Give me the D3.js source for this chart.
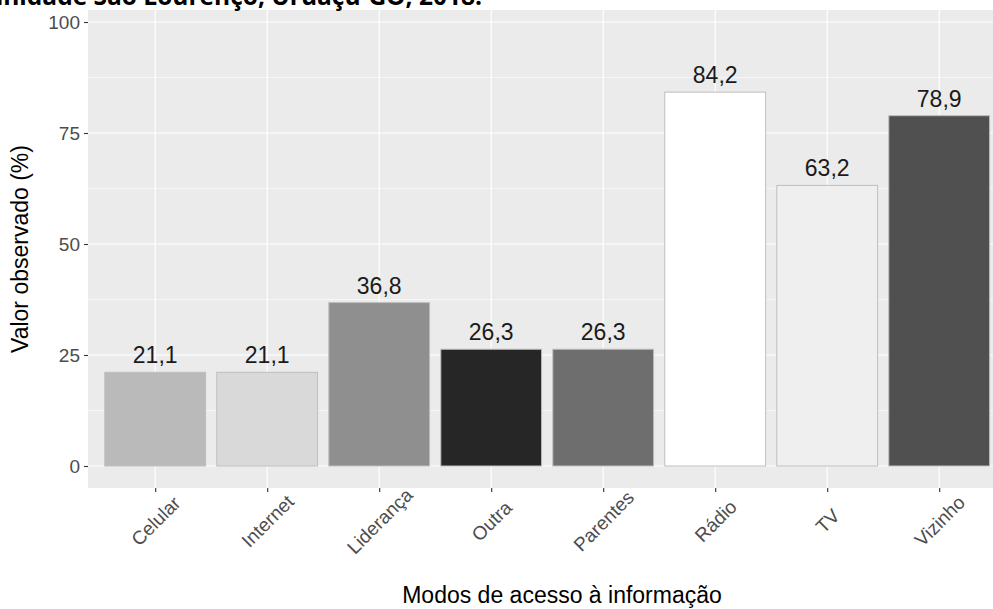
<!DOCTYPE html>
<html>
<head>
<meta charset="utf-8">
<script src="https://cdn.jsdelivr.net/npm/d3@7"></script>
<style>
  body { margin: 0; background: #fff; }
  svg { display: block; }
</style>
</head>
<body>
<div id="chart"></div>
<script>
// data
const modos = ["Celular", "Internet", "Liderança", "Outra", "Parentes", "Rádio", "TV", "Vizinho"];
const valores = [21.1, 21.1, 36.8, 26.3, 26.3, 84.2, 63.2, 78.9];
const cores = ["#bababa", "#d9d9d9", "#8f8f8f", "#262626", "#6e6e6e", "#ffffff", "#efefef", "#505050"];
const yTicks = [0, 25, 50, 75, 100];
const yMinor = [12.5, 37.5, 62.5, 87.5];
const titulo = "Figura 2. Modos de acesso à informação na comunidade São Lourenço, Uruaçu-GO, 2018.";

const width = 993;
const height = 609;
// panel box
const pLeft = 88, pTop = 10, pBottom = 488;
const fonte = "'Liberation Sans', Arial, sans-serif";

const svg = d3.select("#chart").append("svg")
    .attr("width", width)
    .attr("height", height);

//---------------------------SCALES------------------------------//
const yScale = d3.scaleLinear().domain([0, 100]).range([466, 22]);
const xScale = d3.scalePoint().domain(modos).range([pLeft, pLeft + 8.2 * 112]).padding(0.6);
const barW = xScale.step() * 0.9;

//---------------------------PANEL-------------------------------//
svg.append("rect")
    .attr("x", pLeft).attr("y", pTop)
    .attr("width", width - pLeft).attr("height", pBottom - pTop)
    .attr("fill", "#ebebeb");

svg.selectAll(".minor").data(yMinor).enter().append("line")
    .attr("x1", pLeft).attr("x2", width)
    .attr("y1", d => yScale(d)).attr("y2", d => yScale(d))
    .attr("stroke", "#fff").attr("stroke-width", 0.6);

svg.selectAll(".major").data(yTicks).enter().append("line")
    .attr("x1", pLeft).attr("x2", width)
    .attr("y1", d => yScale(d)).attr("y2", d => yScale(d))
    .attr("stroke", "#fff").attr("stroke-width", 1.2);

svg.selectAll(".vgrid").data(modos).enter().append("line")
    .attr("x1", d => xScale(d)).attr("x2", d => xScale(d))
    .attr("y1", pTop).attr("y2", pBottom)
    .attr("stroke", "#fff").attr("stroke-width", 1.2);

//----------------------------BARS-------------------------------//
svg.selectAll(".bar").data(modos).enter().append("rect")
    .attr("x", d => xScale(d) - barW / 2)
    .attr("y", (d, i) => yScale(valores[i]))
    .attr("width", barW)
    .attr("height", (d, i) => yScale(0) - yScale(valores[i]))
    .attr("fill", (d, i) => cores[i])
    .attr("stroke", "#bebebe")
    .attr("stroke-width", 1);

svg.selectAll(".lbl").data(modos).enter().append("text")
    .attr("x", d => xScale(d))
    .attr("y", (d, i) => yScale(valores[i]) - 9)
    .attr("text-anchor", "middle")
    .style("font-family", fonte)
    .style("font-size", "23px")
    .attr("fill", "#1a1a1a")
    .text((d, i) => valores[i].toFixed(1).replace(".", ","));

//----------------------------AXES-------------------------------//
const yaxis = d3.axisLeft(yScale).tickValues(yTicks).tickSize(4).tickPadding(4);
const gy = svg.append("g")
    .attr("transform", "translate(" + pLeft + ",0)")
    .call(yaxis);
gy.select(".domain").remove();
gy.selectAll("line").attr("stroke", "#333").attr("stroke-width", 1.1);
gy.selectAll("text")
    .style("font-family", fonte)
    .style("font-size", "19px")
    .attr("fill", "#4d4d4d");

const xaxis = d3.axisBottom(xScale).tickSize(4).tickPadding(3);
const gx = svg.append("g")
    .attr("transform", "translate(0," + pBottom + ")")
    .call(xaxis);
gx.select(".domain").remove();
gx.selectAll("line").attr("stroke", "#333").attr("stroke-width", 1.1);
gx.selectAll("text")
    .style("font-family", fonte)
    .style("font-size", "19px")
    .attr("fill", "#4d4d4d")
    .attr("text-anchor", "middle")
    .attr("y", 0)
    .attr("dy", "0.35em")
    .attr("transform", "translate(0,33) rotate(-45)");

//----------------------------TITLES-----------------------------//
svg.append("text")
    .attr("x", 562)
    .attr("y", 603)
    .attr("text-anchor", "middle")
    .style("font-family", fonte)
    .style("font-size", "23px")
    .attr("fill", "#000")
    .text("Modos de acesso à informação");

svg.append("text")
    .attr("transform", "translate(28," + (pTop + pBottom) / 2 + ") rotate(-90)")
    .attr("text-anchor", "middle")
    .style("font-family", fonte)
    .style("font-size", "23px")
    .attr("fill", "#000")
    .text("Valor observado (%)");

// title sits above the picture's top edge, only its lower part shows
svg.append("text")
    .attr("x", 482)
    .attr("y", 5)
    .attr("text-anchor", "end")
    .style("font-family", "'Open Sans', sans-serif")
    .style("font-weight", "bold")
    .style("font-size", "24.5px")
    .attr("fill", "#000")
    .text(titulo);
</script>
</body>
</html>
